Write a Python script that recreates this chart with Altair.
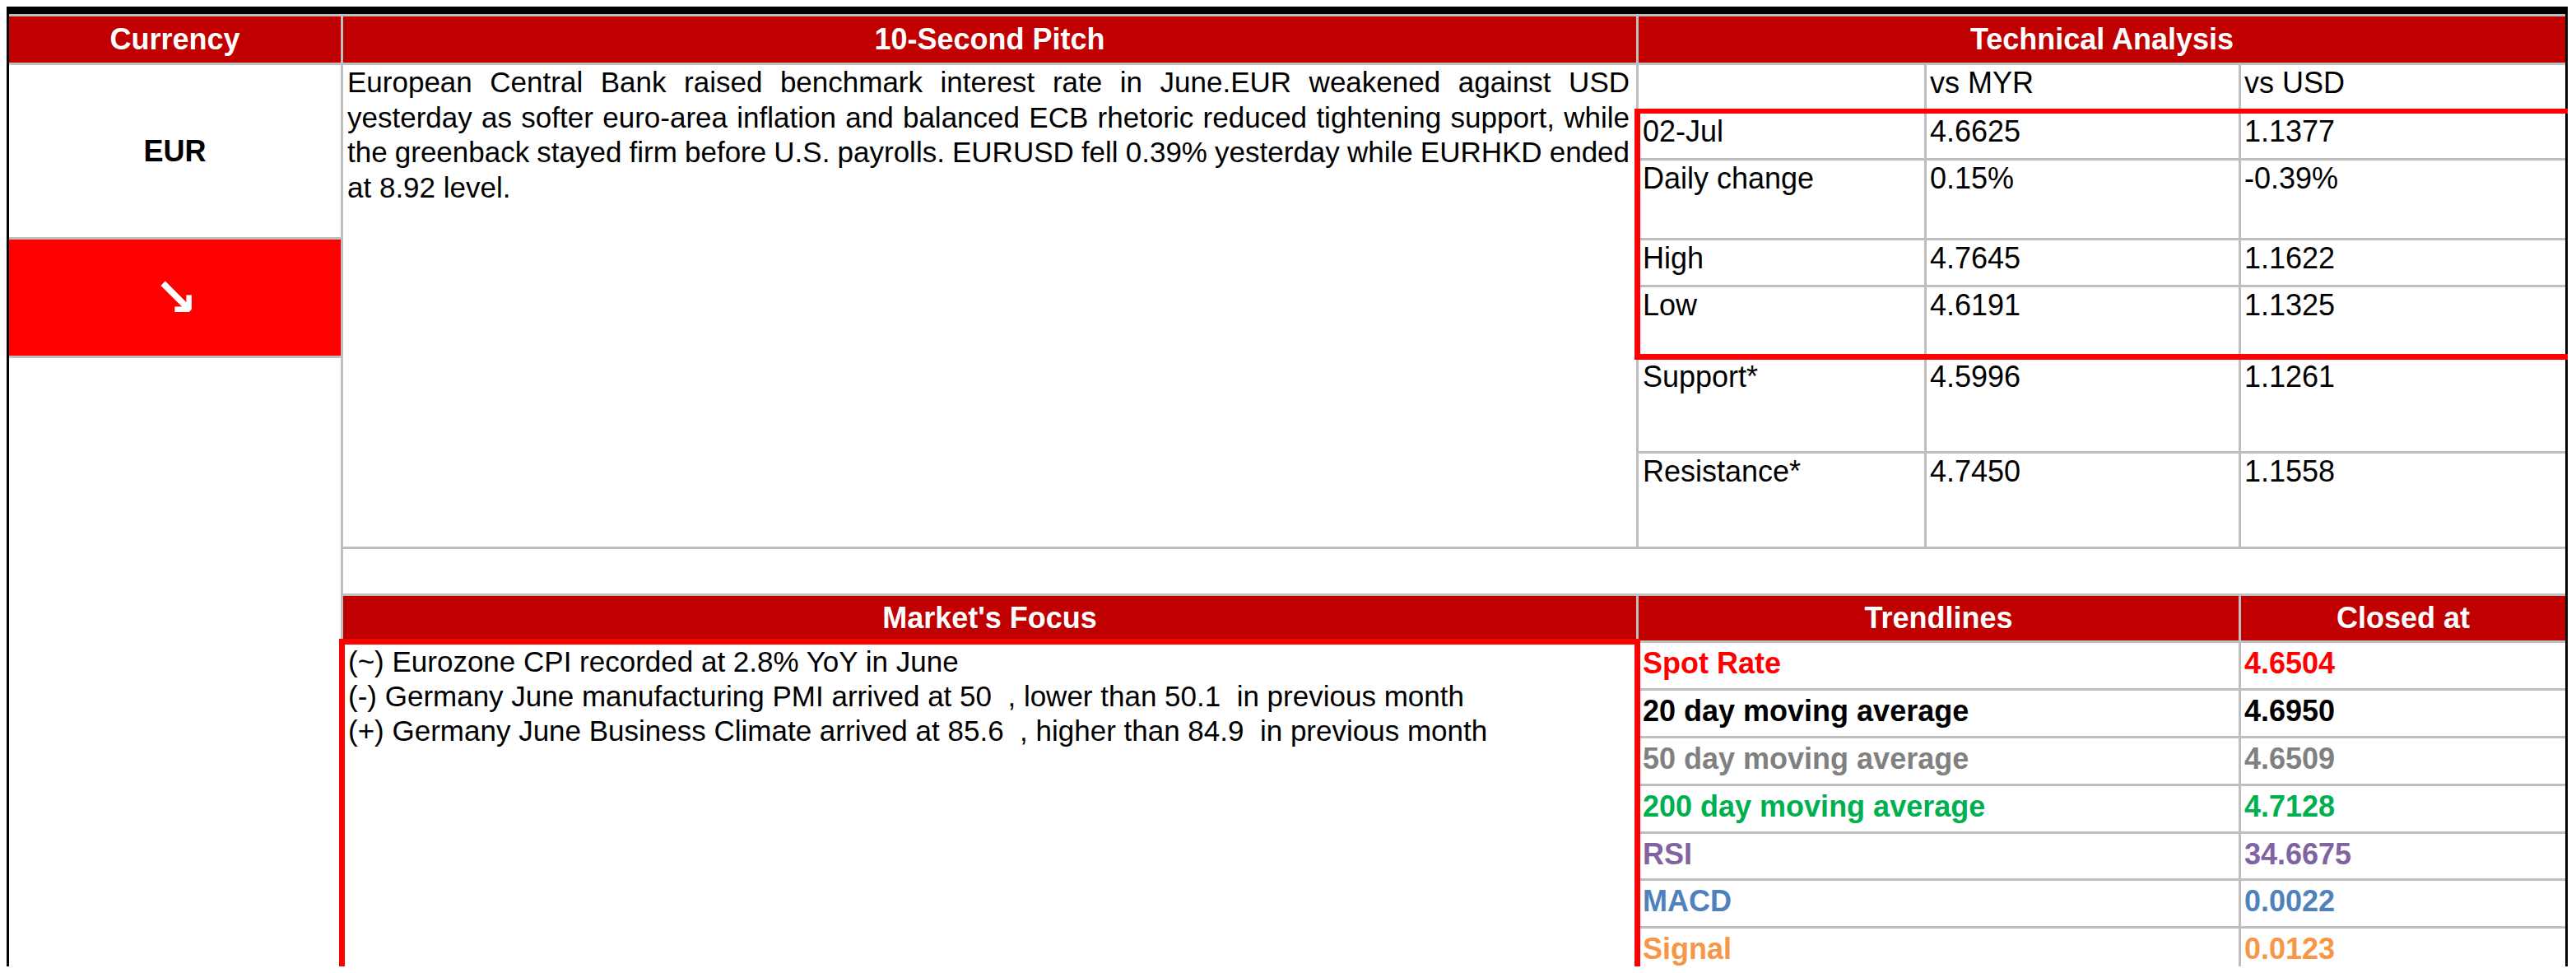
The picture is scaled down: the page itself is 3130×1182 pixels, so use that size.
import altair as alt
import pandas as pd

# ---------------- data (content) ----------------
title_text = "FX Snapshot - EUR"
header_top = ["Currency", "10-Second Pitch", "Technical Analysis"]
header_bottom = ["Market's Focus", "Trendlines", "Closed at"]
currency = "EUR"
direction = "\u2198"
pitch_lines = [
    "European Central Bank raised benchmark interest rate in June.EUR weakened against USD",
    "yesterday as softer euro-area inflation and balanced ECB rhetoric reduced tightening support, while",
    "the greenback stayed firm before U.S. payrolls. EURUSD fell 0.39% yesterday while EURHKD ended",
    "at 8.92 level.",
]
tech_columns = ["vs MYR", "vs USD"]
tech_labels = ["02-Jul", "Daily change", "High", "Low", "Support*", "Resistance*"]
tech_myr = ["4.6625", "0.15%", "4.7645", "4.6191", "4.5996", "4.7450"]
tech_usd = ["1.1377", "-0.39%", "1.1622", "1.1325", "1.1261", "1.1558"]
focus_items = [
    "(~) Eurozone CPI recorded at 2.8% YoY in June",
    "(-) Germany June manufacturing PMI arrived at 50\u00a0 , lower than 50.1\u00a0 in previous month",
    "(+) Germany June Business Climate arrived at 85.6\u00a0 , higher than 84.9\u00a0 in previous month",
]
trend_labels = ["Spot Rate", "20 day moving average", "50 day moving average",
                "200 day moving average", "RSI", "MACD", "Signal"]
trend_values = ["4.6504", "4.6950", "4.6509", "4.7128", "34.6675", "0.0022", "0.0123"]
trend_colors = ["#FF0000", "#000000", "#808080", "#00B050", "#8064A2", "#4F81BD", "#F79646"]

# ---------------- layout (pixel grid of the sheet) ----------------
W_PX, H_PX = 3114, 1166
DOM_X = [8, 8 + W_PX]
DOM_Y = [8, 8 + H_PX]
X_L, X_C1, X_C2, X_T1, X_T2, X_R = 11, 414, 1988, 2338, 2720, 3117
LW = 3
BOTTOM = 1200
TECH_LINES = [192, 289, 346, 548]
TECH_ROW_TOPS = [76, 135, 192, 289, 346, 433, 548]
TREND_LINES = [836, 894, 952, 1010, 1067, 1125]
TREND_ROW_TOPS = [778] + TREND_LINES
HEAD_RED = "#C00000"
GRID = "#BFBFBF"
BRIGHT = "#FF0000"

rects = []
def R(x, x2, y, y2, c):
    rects.append(dict(x=x, x2=x2, y=y, y2=y2, c=c))

# header fills
R(X_L, X_C1, 20, 76, HEAD_RED)
R(X_C1 + LW, X_C2, 20, 76, HEAD_RED)
R(X_C2 + LW, X_R, 20, 76, HEAD_RED)
R(X_C1 + LW, X_C2, 724, 778, HEAD_RED)
R(X_C2 + LW, X_T2, 724, 778, HEAD_RED)
R(X_T2 + LW, X_R, 724, 778, HEAD_RED)
R(X_L, X_C1, 291, 432, BRIGHT)
# grid lines
R(X_L, X_R, 17, 20, GRID)
R(X_L, X_R, 76, 79, GRID)
R(X_L, X_C1, 288, 291, GRID)
R(X_L, X_C1, 432, 435, GRID)
for yy in TECH_LINES:
    R(X_C2 + LW, X_R, yy, yy + LW, GRID)
R(X_C1, X_R, 664, 667, GRID)
R(X_C1, X_R, 721, 724, GRID)
R(X_C2 + LW, X_R, 778, 781, GRID)
for yy in TREND_LINES:
    R(X_C2 + LW, X_R, yy, yy + LW, GRID)
R(X_C1, X_C1 + LW, 20, BOTTOM, GRID)
R(X_C2, X_C2 + LW, 20, 664, GRID)
R(X_C2, X_C2 + LW, 724, BOTTOM, GRID)
R(X_T1, X_T1 + LW, 79, 664, GRID)
R(X_T2, X_T2 + LW, 79, 664, GRID)
R(X_T2, X_T2 + LW, 724, BOTTOM, GRID)
# outer black frame
R(8, 3120, -20, 17, "#000000")
R(8, X_L, 17, BOTTOM, "#000000")
R(X_R, 3120, 17, BOTTOM, "#000000")
# red highlight boxes
R(1986, 3120, 132, 138, BRIGHT)
R(1986, 3120, 430, 437, BRIGHT)
R(1986, 1993, 132, 437, BRIGHT)
R(412, 1993, 776, 783, BRIGHT)
R(412, 419, 776, BOTTOM, BRIGHT)
R(1986, 1993, 776, BOTTOM, BRIGHT)
rect_df = pd.DataFrame(rects)

# --- text tables ---
AFM = {' ': 278, '!': 278, '%': 889, "'": 191, '(': 333, ')': 333, '*': 389, '+': 584,
       ',': 278, '-': 333, '.': 278, '/': 278, ':': 278, '~': 584,
       'A': 667, 'B': 667, 'C': 722, 'D': 722, 'E': 667, 'F': 611, 'G': 778, 'H': 722,
       'I': 278, 'J': 500, 'K': 667, 'L': 556, 'M': 833, 'N': 722, 'O': 778, 'P': 667,
       'Q': 778, 'R': 722, 'S': 667, 'T': 611, 'U': 722, 'V': 667, 'W': 944, 'X': 667,
       'Y': 667, 'Z': 611, 'a': 556, 'b': 556, 'c': 500, 'd': 556, 'e': 556, 'f': 278,
       'g': 556, 'h': 556, 'i': 222, 'j': 222, 'k': 500, 'l': 222, 'm': 833, 'n': 556,
       'o': 556, 'p': 556, 'q': 556, 'r': 333, 's': 500, 't': 278, 'u': 556, 'v': 500,
       'w': 722, 'x': 500, 'y': 500, 'z': 500}
def tw(s, fs):
    return sum(AFM.get(ch, 556) for ch in s) * fs / 1000.0

BODY_FS = 35
TAB_FS = 36
PITCH_L, PITCH_R = 422, 1980
PITCH_BASE = [112, 155, 197, 240]

reg_left = []
for i, line in enumerate(pitch_lines):
    if i < len(pitch_lines) - 1:
        words = line.split(" ")
        total = sum(tw(w, BODY_FS) for w in words)
        gap = (PITCH_R - PITCH_L - total) / (len(words) - 1)
        xx = PITCH_L
        for w in words:
            reg_left.append(dict(x=xx, y=PITCH_BASE[i], t=w, c="#000000", fs=BODY_FS))
            xx += tw(w, BODY_FS) + gap
    else:
        reg_left.append(dict(x=PITCH_L, y=PITCH_BASE[i], t=line, c="#000000", fs=BODY_FS))

for j, col in enumerate(tech_columns):
    reg_left.append(dict(x=[X_T1, X_T2][j] + 7, y=TECH_ROW_TOPS[0] + 37, t=col, c="#000000", fs=TAB_FS))
for i in range(len(tech_labels)):
    yb = TECH_ROW_TOPS[i + 1] + 37
    reg_left.append(dict(x=X_C2 + 8, y=yb, t=tech_labels[i], c="#000000", fs=TAB_FS))
    reg_left.append(dict(x=X_T1 + 7, y=yb, t=tech_myr[i], c="#000000", fs=TAB_FS))
    reg_left.append(dict(x=X_T2 + 7, y=yb, t=tech_usd[i], c="#000000", fs=TAB_FS))

FOCUS_BASE = [816, 858, 900]
for i, t in enumerate(focus_items):
    reg_left.append(dict(x=423, y=FOCUS_BASE[i], t=t, c="#000000", fs=BODY_FS))
reg_left_df = pd.DataFrame(reg_left)

bold_left = []
for i in range(len(trend_labels)):
    yb = TREND_ROW_TOPS[i] + 40
    bold_left.append(dict(x=X_C2 + 8, y=yb, t=trend_labels[i], c=trend_colors[i], fs=TAB_FS))
    bold_left.append(dict(x=X_T2 + 7, y=yb, t=trend_values[i], c=trend_colors[i], fs=TAB_FS))
# sheet title: sits above the visible crop, as in the reference
bold_left.append(dict(x=15, y=0, t=title_text, c="#FFFFFF", fs=36))
bold_left_df = pd.DataFrame(bold_left)

top_cells = [(X_L, X_C1), (X_C1 + LW, X_C2), (X_C2 + LW, X_R)]
bot_cells = [(X_C1 + LW, X_C2), (X_C2 + LW, X_T2), (X_T2 + LW, X_R)]
bold_center = []
for (a, b), t in zip(top_cells, header_top):
    bold_center.append(dict(x=(a + b) / 2, y=60, t=t, c="#FFFFFF", fs=TAB_FS))
for (a, b), t in zip(bot_cells, header_bottom):
    bold_center.append(dict(x=(a + b) / 2, y=763, t=t, c="#FFFFFF", fs=TAB_FS))
bold_center.append(dict(x=(X_L + X_C1) / 2, y=196, t=currency, c="#000000", fs=TAB_FS))
bold_center_df = pd.DataFrame(bold_center)

arrow_df = pd.DataFrame([dict(x=(X_L + X_C1) / 2 + 1, y=(291 + 432) / 2 + 2, t=direction, c="#FFFFFF", fs=64)])

# ---------------- chart ----------------
xs = alt.Scale(domain=DOM_X, nice=False, zero=False)
ys = alt.Scale(domain=DOM_Y, nice=False, zero=False, reverse=True)

rect_layer = alt.Chart(rect_df).mark_rect(strokeWidth=0).encode(
    x=alt.X("x:Q", scale=xs, axis=None),
    x2="x2:Q",
    y=alt.Y("y:Q", scale=ys, axis=None),
    y2="y2:Q",
    color=alt.Color("c:N", scale=None),
)

def text_layer(df, align, weight, font="Liberation Sans", baseline="alphabetic"):
    return alt.Chart(df).mark_text(align=align, baseline=baseline, font=font,
                                   fontWeight=weight).encode(
        x=alt.X("x:Q", scale=xs, axis=None),
        y=alt.Y("y:Q", scale=ys, axis=None),
        text="t:N",
        color=alt.Color("c:N", scale=None),
        size=alt.Size("fs:Q", scale=None),
    )

chart = alt.layer(
    rect_layer,
    text_layer(reg_left_df, "left", "normal"),
    text_layer(bold_left_df, "left", "bold"),
    text_layer(bold_center_df, "center", "bold"),
    text_layer(arrow_df, "center", "bold", font="DejaVu Sans", baseline="middle"),
).properties(
    width=W_PX, height=H_PX, padding=0,
    autosize=alt.AutoSizeParams(type="none"),
).configure_view(stroke=None)

chart.save("out.html", embed_options={"renderer": "svg", "actions": False})
